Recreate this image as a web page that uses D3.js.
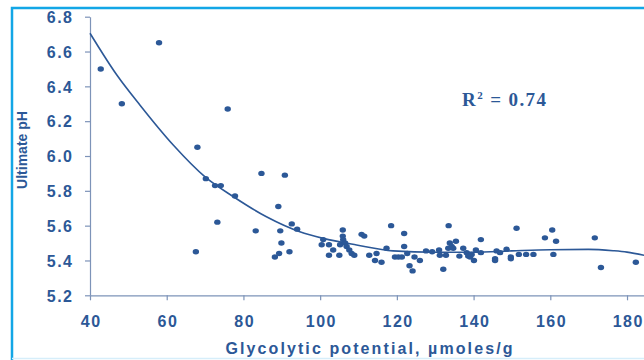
<!DOCTYPE html>
<html><head><meta charset="utf-8">
<script src="https://cdn.jsdelivr.net/npm/d3@7"></script>
<style>
html,body{margin:0;padding:0;background:#fff;}
svg{display:block;}
</style></head>
<body>
<svg id="chart" width="644" height="360"></svg>
<script>
// Scatter data: glycolytic potential (µmoles/g) vs ultimate pH
const glycoX = [42.8,48.3,58.0,67.6,68.0,70.2,72.6,74.1,73.2,75.9,77.8,83.2,84.7,88.2,89.1,89.3,89.6,89.9,90.8,92.0,92.6,94.0,
  100.4,100.8,102.3,102.3,103.4,105.0,105.2,105.9,105.9,106.0,106.5,106.9,107.6,108.2,108.9,110.8,111.5,112.8,114.3,114.7,116.0,117.3,118.5,
  119.5,120.4,121.3,121.9,121.9,122.7,123.3,124.1,124.6,126.0,127.6,129.2,131.0,131.2,132.1,132.8,133.4,133.5,133.8,134.3,134.7,135.4,
  136.3,137.3,138.2,138.6,139.1,139.5,140.1,140.6,141.9,141.9,145.6,145.6,146.0,146.9,148.6,149.7,149.7,151.2,151.8,153.7,155.6,
  158.6,160.5,160.8,161.5,171.6,173.2,182.3];
const phY = [6.50,6.30,6.65,5.45,6.05,5.87,5.83,5.83,5.62,6.27,5.77,5.57,5.90,5.42,5.71,5.44,5.57,5.50,5.89,5.45,5.61,5.58,
  5.49,5.52,5.49,5.43,5.46,5.43,5.49,5.575,5.54,5.52,5.50,5.48,5.46,5.44,5.43,5.55,5.54,5.43,5.40,5.44,5.39,5.47,5.60,
  5.42,5.42,5.42,5.555,5.48,5.44,5.37,5.34,5.42,5.40,5.455,5.45,5.46,5.43,5.35,5.43,5.47,5.60,5.50,5.48,5.47,5.51,
  5.425,5.47,5.445,5.425,5.42,5.435,5.40,5.46,5.52,5.445,5.41,5.40,5.455,5.445,5.465,5.42,5.41,5.585,5.435,5.435,5.435,
  5.53,5.575,5.435,5.51,5.53,5.36,5.39];
// Trend line
const trendX = [40,47,53,61.7,70,77.4,86,94.7,100.8,109.5,119,130,140,150,160,170,176.4,180,184.5];
const trendY = [6.705,6.465,6.293,6.063,5.88,5.766,5.651,5.565,5.527,5.489,5.455,5.447,5.447,5.455,5.462,5.464,5.456,5.448,5.43];
const xTicks = [40,60,80,100,120,140,160,180];
const yTicks = [5.2,5.4,5.6,5.8,6.0,6.2,6.4,6.6,6.8];
const xTitle = "Glycolytic potential, µmoles/g";
const yTitle = "Ultimate pH";
const r2Label = "0.74";

const ink = "#2c5897";
const axisCol = "#7d93b8";
const svg = d3.select("#chart");

// frame
svg.append("path").attr("d","M12,360 L12,8 L650,8").attr("fill","none").attr("stroke","#13a6e6").attr("stroke-width",2.5);
svg.append("line").attr("x1",12).attr("x2",644).attr("y1",358.5).attr("y2",358.5).attr("stroke","#d6eefa").attr("stroke-width",1.5);

const x = d3.scaleLinear().domain([40,185]).range([90,646.2]);
const y = d3.scaleLinear().domain([5.2,6.8]).range([295.3,16.7]);

const font = "'Liberation Sans', Arial, sans-serif";

const gx = svg.append("g").attr("transform","translate(0,295.3)")
  .call(d3.axisBottom(x).tickValues(xTicks).tickFormat(d3.format("d")).tickSize(5).tickSizeOuter(0));
const gy = svg.append("g").attr("transform","translate(90,0)")
  .call(d3.axisLeft(y).tickValues(yTicks).tickFormat(d3.format(".1f")).tickSize(5).tickSizeOuter(0));
[gx,gy].forEach(g=>{
  g.select(".domain").attr("stroke",axisCol).attr("stroke-width",1.2);
  g.selectAll(".tick line").attr("stroke",axisCol).attr("stroke-width",1.2);
  g.selectAll(".tick text").attr("fill",ink).attr("font-family",font).attr("font-weight","bold")
    .attr("font-size",16).attr("letter-spacing",1.5);
});
gx.selectAll(".tick text").attr("dy",null).attr("y",31.5).attr("x",0.75);
gy.selectAll(".tick text").attr("x",-16.5).attr("dy","0.36em");

// trend
const trend = trendX.map((d,i)=>[d,trendY[i]]);
svg.append("path").datum(trend)
  .attr("d", d3.line().x(d=>x(d[0])).y(d=>y(d[1])).curve(d3.curveMonotoneX))
  .attr("fill","none").attr("stroke",ink).attr("stroke-width",1.6);

// points
const pts = glycoX.map((d,i)=>[d,phY[i]]);
svg.append("g").selectAll("ellipse").data(pts).enter().append("ellipse")
  .attr("cx",d=>x(d[0])).attr("cy",d=>y(d[1])).attr("rx",3.2).attr("ry",2.7).attr("fill",ink);

// titles
svg.append("text").attr("x",370).attr("y",354).attr("text-anchor","middle")
  .attr("fill",ink).attr("font-family",font).attr("font-weight","bold").attr("font-size",16)
  .attr("letter-spacing",2.1).text(xTitle);
svg.append("text").attr("transform","translate(27,150) rotate(-90)").attr("text-anchor","middle")
  .attr("fill",ink).attr("font-family",font).attr("font-weight","bold").attr("font-size",14).text(yTitle);

const rt = svg.append("text").attr("x",462).attr("y",106).attr("fill",ink)
  .attr("font-family","'Liberation Serif','Times New Roman',serif").attr("font-weight","bold").attr("font-size",19)
  .attr("letter-spacing",1.4);
rt.append("tspan").text("R");
rt.append("tspan").attr("font-size",11).attr("dy",-7).text("2");
rt.append("tspan").attr("dy",7).text(" = " + r2Label);
</script>
</body></html>
